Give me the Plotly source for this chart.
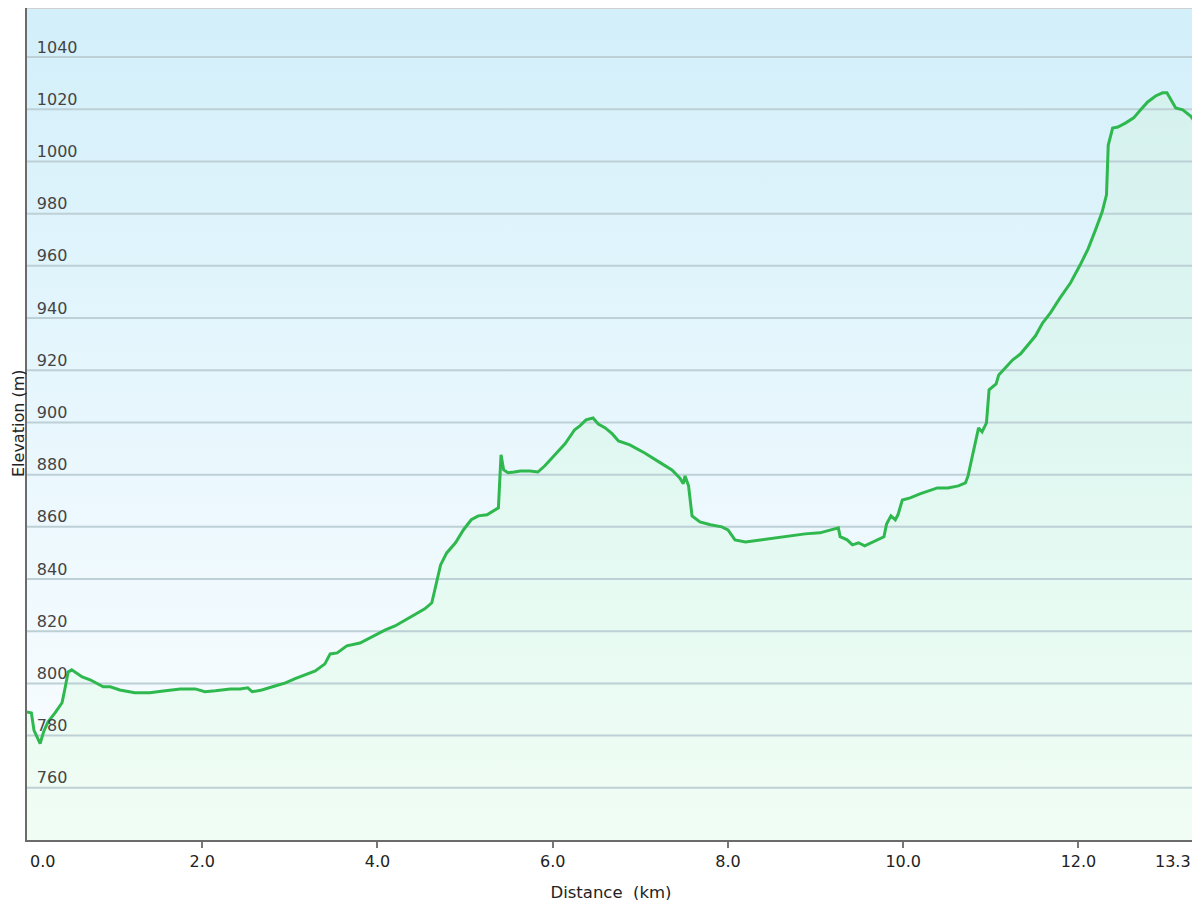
import plotly.graph_objects as go

distance_km = [0.00, 0.05, 0.08, 0.11, 0.15, 0.19, 0.24, 0.32, 0.40, 0.43, 0.47, 0.51, 0.57, 0.63,
               0.72, 0.80, 0.87, 0.95, 1.06, 1.23, 1.40, 1.58, 1.75, 1.92, 2.03, 2.15, 2.32, 2.43,
               2.52, 2.57, 2.68, 2.83, 2.95, 3.06, 3.17, 3.29, 3.40, 3.46, 3.54, 3.65, 3.80, 3.92,
               4.09, 4.20, 4.32, 4.43, 4.54, 4.62, 4.67, 4.72, 4.79, 4.89, 4.98, 5.07, 5.15, 5.25,
               5.38, 5.41, 5.44, 5.49, 5.56, 5.63, 5.74, 5.83, 5.91, 6.03, 6.14, 6.25, 6.31, 6.38,
               6.46, 6.52, 6.60, 6.68, 6.75, 6.88, 7.05, 7.23, 7.36, 7.45, 7.49, 7.51, 7.55, 7.59,
               7.68, 7.80, 7.93, 8.00, 8.08, 8.20, 8.37, 8.54, 8.71, 8.88, 9.05, 9.17, 9.26, 9.28,
               9.36, 9.42, 9.49, 9.56, 9.66, 9.74, 9.78, 9.81, 9.86, 9.91, 9.94, 9.99, 10.08, 10.19,
               10.31, 10.39, 10.51, 10.63, 10.71, 10.74, 10.78, 10.86, 10.90, 10.95, 10.98, 11.06,
               11.09, 11.17, 11.25, 11.34, 11.42, 11.51, 11.59, 11.68, 11.79, 11.91, 12.02, 12.11,
               12.19, 12.25, 12.27, 12.32, 12.34, 12.39, 12.45, 12.54, 12.63, 12.71, 12.79, 12.88,
               12.96, 13.01, 13.06, 13.11, 13.19, 13.28, 13.33]
elevation_m = [789.1, 788.7, 782.0, 780.0, 776.9, 781.5, 785.3, 788.7, 792.6, 797.5, 804.4, 805.2, 804.0, 802.5,
               801.4, 799.8, 798.7, 798.7, 797.5, 796.4, 796.4, 797.2, 797.9, 797.9, 796.8, 797.2, 797.9, 797.9,
               798.3, 796.8, 797.5, 799.0, 800.2, 801.8, 803.3, 804.8, 807.5, 811.3, 811.7, 814.4, 815.5, 817.5,
               820.5, 822.0, 824.4, 826.7, 828.6, 830.9, 837.8, 845.4, 850.0, 853.9, 858.8, 862.7, 864.2, 864.6,
               867.3, 887.6, 881.8, 880.7, 881.0, 881.4, 881.4, 881.0, 883.4, 887.6, 891.8, 897.2, 898.7, 901.0,
               901.7, 899.4, 897.9, 895.6, 892.9, 891.4, 888.3, 884.5, 881.8, 878.7, 876.5, 879.5, 875.7, 864.2,
               861.9, 860.8, 860.0, 858.8, 855.0, 854.2, 855.0, 855.8, 856.5, 857.3, 857.7, 858.8, 859.6, 856.2,
               855.0, 853.1, 853.9, 852.7, 854.2, 855.4, 856.2, 861.1, 864.2, 862.7, 864.6, 870.3, 871.1, 872.6,
               873.8, 874.9, 874.9, 875.7, 876.8, 879.5, 885.7, 897.9, 896.4, 899.8, 912.5, 914.8,
               918.2, 920.9, 924.0, 926.3, 929.7, 933.2, 938.1, 942.0, 947.7, 953.5, 960.4, 966.5,
               973.4, 979.1, 980.6, 987.2, 1006.3, 1012.8, 1013.2, 1014.8, 1016.7, 1019.8, 1022.8, 1025.1,
               1026.3, 1026.3, 1023.6, 1020.5, 1019.8, 1017.4, 1015.1]

x_tick_vals = [0.0, 2.0, 4.0, 6.0, 8.0, 10.0, 12.0, 13.33]
x_tick_text = ["0.0", "2.0", "4.0", "6.0", "8.0", "10.0", "12.0", "13.3"]
y_tick_vals = [760, 780, 800, 820, 840, 860, 880, 900, 920, 940, 960, 980, 1000, 1020, 1040]

X_RANGE = [0, 13.33]
Y_RANGE = [740, 1058.8]

FONT = "DejaVu Sans, Verdana, sans-serif"
FSIZE = 16
NB = "\u00a0"

fig = go.Figure()

# background gradient (sky) covering the plot area
fig.add_trace(go.Scatter(
    x=[X_RANGE[0], X_RANGE[1], X_RANGE[1], X_RANGE[0], X_RANGE[0]],
    y=[Y_RANGE[0], Y_RANGE[0], Y_RANGE[1], Y_RANGE[1], Y_RANGE[0]],
    mode="none", fill="toself",
    fillgradient=dict(type="vertical", start=Y_RANGE[0], stop=Y_RANGE[1],
                      colorscale=[[0, "#fbfdff"], [0.35, "#eef9fe"], [0.7, "#e0f4fc"], [1, "#d2effa"]]),
    hoverinfo="skip", showlegend=False))

# baseline for the area fill
fig.add_trace(go.Scatter(
    x=[distance_km[0], distance_km[-1]], y=[Y_RANGE[0], Y_RANGE[0]],
    mode="lines", line=dict(width=0), hoverinfo="skip", showlegend=False))

# area under the profile
fig.add_trace(go.Scatter(
    x=distance_km, y=elevation_m, mode="lines",
    line=dict(width=0),
    fill="tonexty",
    fillgradient=dict(type="vertical", start=Y_RANGE[0], stop=1030,
                      colorscale=[[0, "#f1fdf4"], [0.35, "#e5faf2"], [0.7, "#dcf5f1"], [1, "#d5f1ee"]]),
    hoverinfo="skip", showlegend=False))

# horizontal grid lines drawn over the gradient fills
gx, gy = [], []
for v in y_tick_vals:
    gx += [X_RANGE[0], X_RANGE[1], None]
    gy += [v, v, None]
fig.add_trace(go.Scatter(x=gx, y=gy, mode="lines",
                         line=dict(color="#bcd0d6", width=2),
                         hoverinfo="skip", showlegend=False))

# profile line
fig.add_trace(go.Scatter(
    x=distance_km, y=elevation_m, mode="lines",
    line=dict(color="#2eb84e", width=3),
    showlegend=False))

# the two end labels of the distance axis are aligned to stay inside the chart
edge_labels = [
    dict(text=x_tick_text[0], x=x_tick_vals[0], xanchor="left", xshift=1),
    dict(text=x_tick_text[-1], x=x_tick_vals[-1], xanchor="right", xshift=-2),
]
annotations = [dict(text=e["text"], x=e["x"], xref="x", y=0, yref="paper",
                    xanchor=e["xanchor"], yanchor="top", xshift=e["xshift"], yshift=-10,
                    showarrow=False, font=dict(size=FSIZE)) for e in edge_labels]
annotations.append(dict(text="Elevation (m)", xref="paper", yref="paper", x=0, y=0.5,
                        xanchor="center", yanchor="middle", xshift=-9, textangle=-90,
                        showarrow=False, font=dict(size=FSIZE)))

fig.update_layout(
    width=1200, height=900,
    margin=dict(l=19, r=13, t=0, b=68),
    paper_bgcolor="white", plot_bgcolor="white",
    font=dict(family=FONT, size=FSIZE, color="#222"),
    xaxis=dict(range=X_RANGE, tickvals=x_tick_vals,
               ticktext=[""] + x_tick_text[1:-1] + [""],
               showgrid=False, zeroline=False,
               showline=True, linecolor="#6b6b6b", linewidth=2,
               ticks="outside", ticklen=6, tickcolor="#777", tickwidth=2,
               title=dict(text="Distance" + NB + NB + "(km)" + NB * 3, standoff=16,
                          font=dict(size=FSIZE + 0.5)),
               automargin=False),
    yaxis=dict(range=Y_RANGE, tickvals=y_tick_vals,
               showgrid=False, zeroline=False,
               showline=True, linecolor="#6b6b6b", linewidth=2,
               ticks="", ticklabelposition="inside", ticklabelstandoff=10, ticklabelshift=-10,
               title=dict(text=""),
               automargin=False),
    annotations=annotations,
    shapes=[dict(type="line", xref="paper", yref="paper", x0=0, x1=1, y0=1, y1=1,
                 line=dict(color="#d0d0d0", width=2)),
            dict(type="line", xref="paper", yref="paper", x0=1, x1=1, y0=0, y1=1,
                 line=dict(color="#d0d0d0", width=2))],
)

fig.write_html("out.html")
